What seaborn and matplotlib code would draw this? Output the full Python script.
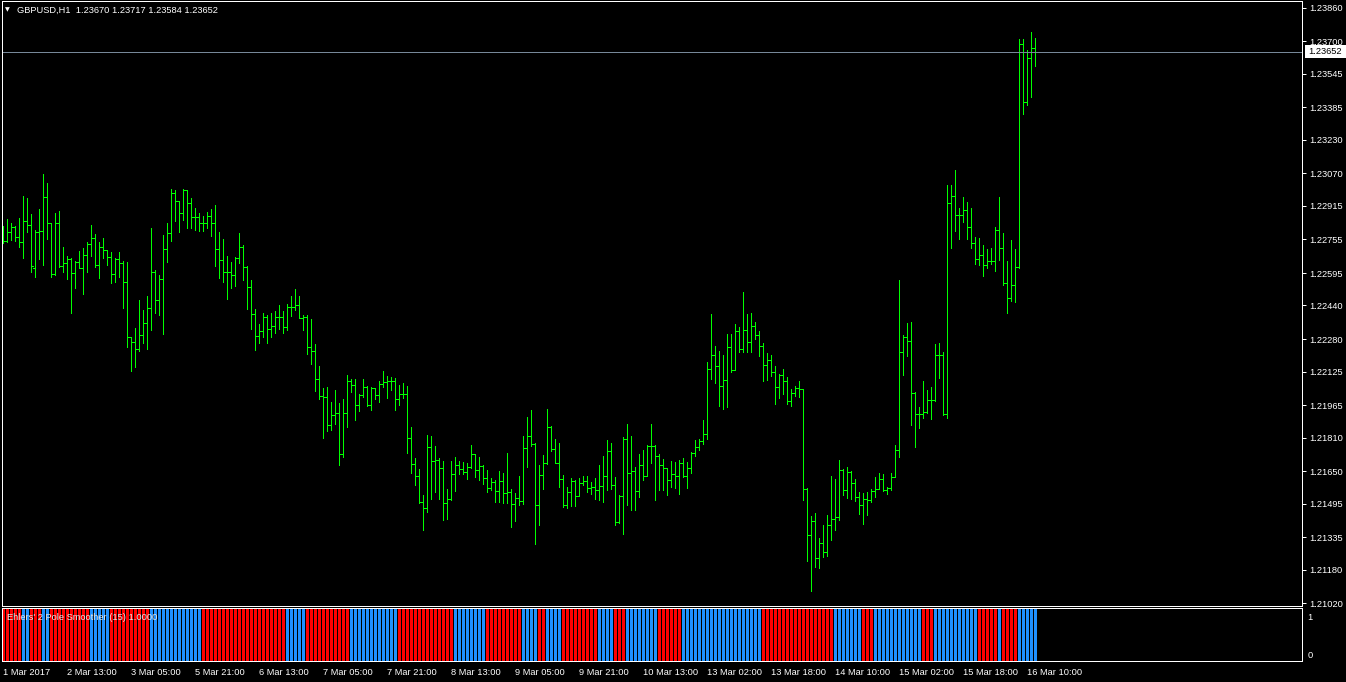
import matplotlib
matplotlib.use('Agg')
import matplotlib.pyplot as plt
import matplotlib.transforms as mtransforms
from matplotlib.patches import Rectangle
import numpy as np
import pandas as pd
import seaborn as sns

# GBPUSD H1 bars
symbol = 'GBPUSD,H1'

opens = [
    1.22755, 1.22749, 1.22790, 1.22813, 1.22765, 1.22743, 1.22841, 1.22822, 1.22620, 1.22790,
    1.22797, 1.22956, 1.22832, 1.22589, 1.22832, 1.22628, 1.22641, 1.22660, 1.22593, 1.22649,
    1.22620, 1.22679, 1.22732, 1.22760, 1.22633, 1.22717, 1.22704, 1.22671, 1.22589, 1.22660,
    1.22641, 1.22550, 1.22288, 1.22264, 1.22231, 1.22298, 1.22355, 1.22428, 1.22600, 1.22466,
    1.22565, 1.22708, 1.22787, 1.22978, 1.22937, 1.22880, 1.22991, 1.22927, 1.22860, 1.22860,
    1.22832, 1.22832, 1.22867, 1.22835, 1.22708, 1.22655, 1.22600, 1.22600, 1.22584, 1.22666,
    1.22717, 1.22622, 1.22527, 1.22398, 1.22294, 1.22317, 1.22383, 1.22326, 1.22342, 1.22383,
    1.22383, 1.22339, 1.22434, 1.22434, 1.22444, 1.22382, 1.22383, 1.22240, 1.22221, 1.22088,
    1.22008, 1.22005, 1.21868, 1.21916, 1.21926, 1.21731, 1.21926, 1.22078, 1.22059, 1.21964,
    1.22014, 1.22050, 1.21966, 1.22046, 1.22014, 1.22065, 1.22075, 1.22081, 1.22078, 1.21994,
    1.22018, 1.22018, 1.21806, 1.21684, 1.21625, 1.21502, 1.21474, 1.21763, 1.21698, 1.21701,
    1.21665, 1.21496, 1.21515, 1.21635, 1.21680, 1.21658, 1.21646, 1.21669, 1.21730, 1.21655,
    1.21674, 1.21618, 1.21568, 1.21599, 1.21554, 1.21601, 1.21547, 1.21550, 1.21493, 1.21521,
    1.21507, 1.21759, 1.21819, 1.21778, 1.21487, 1.21630, 1.21687, 1.21859, 1.21754, 1.21690,
    1.21611, 1.21487, 1.21550, 1.21601, 1.21533, 1.21594, 1.21601, 1.21571, 1.21575, 1.21560,
    1.21577, 1.21625, 1.21744, 1.21583, 1.21407, 1.21531, 1.21801, 1.21642, 1.21652, 1.21554,
    1.21678, 1.21626, 1.21770, 1.21770, 1.21722, 1.21680, 1.21663, 1.21607, 1.21636, 1.21628,
    1.21690, 1.21626, 1.21663, 1.21734, 1.21763, 1.21792, 1.21827, 1.22135, 1.22202, 1.22151,
    1.22056, 1.22084, 1.22240, 1.22132, 1.22317, 1.22231, 1.22323, 1.22264, 1.22342, 1.22300,
    1.22247, 1.22155, 1.22178, 1.22123, 1.22050, 1.22108, 1.22081, 1.21986, 1.22021, 1.22045,
    1.22040, 1.21563, 1.21344, 1.21410, 1.21234, 1.21308, 1.21266, 1.21391, 1.21420, 1.21432,
    1.21655, 1.21560, 1.21646, 1.21592, 1.21528, 1.21487, 1.21515, 1.21512, 1.21554, 1.21566,
    1.21611, 1.21560, 1.21568, 1.21623, 1.21750, 1.22218, 1.22288, 1.22270, 1.22021, 1.21921,
    1.21924, 1.21934, 1.21990, 1.21990, 1.22202, 1.22202, 1.21921, 1.22927, 1.22961, 1.22870,
    1.22870, 1.22894, 1.22814, 1.22736, 1.22660, 1.22681, 1.22633, 1.22652, 1.22652, 1.22801,
    1.22713, 1.22549, 1.22477, 1.22539, 1.22623, 1.23690, 1.23409, 1.23619, 1.23670,
]
highs = [
    1.22819, 1.22851, 1.22832, 1.22819, 1.22856, 1.22962, 1.22953, 1.22876, 1.22800, 1.22899,
    1.23067, 1.23024, 1.22835, 1.22882, 1.22891, 1.22717, 1.22676, 1.22665, 1.22652, 1.22700,
    1.22714, 1.22743, 1.22824, 1.22781, 1.22743, 1.22762, 1.22706, 1.22695, 1.22666, 1.22695,
    1.22652, 1.22647, 1.22292, 1.22332, 1.22466, 1.22418, 1.22485, 1.22809, 1.22609, 1.22584,
    1.22776, 1.22835, 1.22995, 1.22991, 1.22940, 1.22995, 1.22993, 1.22953, 1.22905, 1.22880,
    1.22868, 1.22886, 1.22900, 1.22919, 1.22790, 1.22756, 1.22676, 1.22649, 1.22670, 1.22787,
    1.22728, 1.22628, 1.22561, 1.22423, 1.22352, 1.22404, 1.22396, 1.22405, 1.22415, 1.22442,
    1.22415, 1.22447, 1.22485, 1.22518, 1.22485, 1.22393, 1.22396, 1.22374, 1.22256, 1.22151,
    1.22046, 1.22050, 1.21979, 1.22037, 1.21973, 1.21992, 1.22107, 1.22091, 1.22088, 1.22018,
    1.22091, 1.22056, 1.22050, 1.22048, 1.22078, 1.22127, 1.22103, 1.22097, 1.22094, 1.22061,
    1.22070, 1.22056, 1.21859, 1.21711, 1.21658, 1.21534, 1.21821, 1.21816, 1.21770, 1.21711,
    1.21699, 1.21564, 1.21698, 1.21717, 1.21699, 1.21693, 1.21687, 1.21774, 1.21731, 1.21719,
    1.21679, 1.21655, 1.21617, 1.21607, 1.21650, 1.21641, 1.21736, 1.21564, 1.21544, 1.21626,
    1.21817, 1.21908, 1.21941, 1.21782, 1.21679, 1.21727, 1.21946, 1.21865, 1.21801, 1.21785,
    1.21631, 1.21573, 1.21616, 1.21607, 1.21616, 1.21626, 1.21626, 1.21598, 1.21616, 1.21679,
    1.21722, 1.21798, 1.21784, 1.21620, 1.21535, 1.21814, 1.21875, 1.21817, 1.21669, 1.21731,
    1.21750, 1.21773, 1.21875, 1.21775, 1.21730, 1.21708, 1.21665, 1.21698, 1.21693, 1.21703,
    1.21712, 1.21693, 1.21741, 1.21798, 1.21803, 1.21894, 1.22170, 1.22399, 1.22247, 1.22223,
    1.22202, 1.22304, 1.22304, 1.22352, 1.22337, 1.22504, 1.22399, 1.22405, 1.22361, 1.22318,
    1.22261, 1.22213, 1.22205, 1.22151, 1.22113, 1.22135, 1.22097, 1.22040, 1.22056, 1.22078,
    1.22042, 1.21568, 1.21436, 1.21449, 1.21331, 1.21391, 1.21439, 1.21626, 1.21612, 1.21703,
    1.21661, 1.21671, 1.21650, 1.21612, 1.21550, 1.21547, 1.21550, 1.21563, 1.21620, 1.21641,
    1.21636, 1.21575, 1.21641, 1.21774, 1.22561, 1.22299, 1.22358, 1.22361, 1.22025, 1.21956,
    1.22080, 1.22037, 1.22051, 1.22256, 1.22261, 1.22218, 1.23015, 1.23015, 1.23086, 1.22905,
    1.22957, 1.22933, 1.22905, 1.22767, 1.22762, 1.22728, 1.22709, 1.22714, 1.22814, 1.22957,
    1.22786, 1.22652, 1.22752, 1.22709, 1.23711, 1.23711, 1.23659, 1.23744, 1.23717,
]
lows = [
    1.22736, 1.22744, 1.22752, 1.22749, 1.22720, 1.22668, 1.22792, 1.22601, 1.22577, 1.22663,
    1.22634, 1.22758, 1.22577, 1.22585, 1.22625, 1.22600, 1.22568, 1.22405, 1.22525, 1.22617,
    1.22496, 1.22601, 1.22676, 1.22625, 1.22572, 1.22665, 1.22634, 1.22549, 1.22553, 1.22577,
    1.22429, 1.22243, 1.22129, 1.22148, 1.22224, 1.22259, 1.22234, 1.22323, 1.22403, 1.22396,
    1.22305, 1.22649, 1.22749, 1.22844, 1.22792, 1.22848, 1.22811, 1.22811, 1.22800, 1.22795,
    1.22797, 1.22811, 1.22773, 1.22628, 1.22572, 1.22553, 1.22472, 1.22525, 1.22533, 1.22644,
    1.22561, 1.22425, 1.22329, 1.22229, 1.22262, 1.22291, 1.22262, 1.22291, 1.22310, 1.22329,
    1.22310, 1.22323, 1.22390, 1.22418, 1.22379, 1.22323, 1.22210, 1.22161, 1.22033, 1.21995,
    1.21809, 1.21843, 1.21846, 1.21875, 1.21680, 1.21719, 1.21862, 1.22027, 1.21894, 1.21935,
    1.22002, 1.21962, 1.21939, 1.21992, 1.21979, 1.22052, 1.22000, 1.22037, 1.21939, 1.21966,
    1.21997, 1.21735, 1.21642, 1.21585, 1.21499, 1.21369, 1.21456, 1.21515, 1.21550, 1.21518,
    1.21418, 1.21423, 1.21512, 1.21555, 1.21636, 1.21636, 1.21611, 1.21665, 1.21620, 1.21607,
    1.21588, 1.21550, 1.21560, 1.21504, 1.21502, 1.21499, 1.21496, 1.21385, 1.21413, 1.21490,
    1.21493, 1.21671, 1.21770, 1.21302, 1.21394, 1.21566, 1.21685, 1.21747, 1.21687, 1.21575,
    1.21480, 1.21475, 1.21483, 1.21483, 1.21530, 1.21584, 1.21552, 1.21541, 1.21518, 1.21512,
    1.21502, 1.21560, 1.21566, 1.21391, 1.21400, 1.21350, 1.21488, 1.21464, 1.21464, 1.21528,
    1.21607, 1.21625, 1.21690, 1.21512, 1.21560, 1.21560, 1.21536, 1.21574, 1.21569, 1.21541,
    1.21623, 1.21569, 1.21642, 1.21723, 1.21750, 1.21779, 1.21804, 1.22091, 1.22071, 1.21960,
    1.21947, 1.21957, 1.22124, 1.22130, 1.22219, 1.22219, 1.22219, 1.22219, 1.22280, 1.22199,
    1.22081, 1.22084, 1.22105, 1.21971, 1.21999, 1.22018, 1.21970, 1.21960, 1.22008, 1.22005,
    1.21512, 1.21221, 1.21079, 1.21194, 1.21189, 1.21242, 1.21246, 1.21321, 1.21369, 1.21417,
    1.21536, 1.21520, 1.21515, 1.21506, 1.21447, 1.21399, 1.21442, 1.21501, 1.21528, 1.21563,
    1.21556, 1.21542, 1.21560, 1.21620, 1.21716, 1.22108, 1.22199, 1.21868, 1.21765, 1.21855,
    1.21902, 1.21926, 1.21897, 1.21986, 1.22095, 1.21917, 1.21902, 1.22713, 1.22797, 1.22758,
    1.22839, 1.22758, 1.22715, 1.22639, 1.22634, 1.22582, 1.22620, 1.22639, 1.22606, 1.22658,
    1.22539, 1.22405, 1.22463, 1.22458, 1.22620, 1.23353, 1.23396, 1.23436, 1.23584,
]
closes = [
    1.22749, 1.22790, 1.22813, 1.22765, 1.22743, 1.22841, 1.22825, 1.22627, 1.22790, 1.22797,
    1.22956, 1.22832, 1.22589, 1.22832, 1.22628, 1.22641, 1.22660, 1.22593, 1.22649, 1.22620,
    1.22679, 1.22732, 1.22760, 1.22633, 1.22717, 1.22704, 1.22671, 1.22589, 1.22660, 1.22641,
    1.22550, 1.22288, 1.22264, 1.22231, 1.22298, 1.22355, 1.22428, 1.22600, 1.22466, 1.22565,
    1.22708, 1.22787, 1.22978, 1.22937, 1.22880, 1.22991, 1.22927, 1.22860, 1.22860, 1.22832,
    1.22832, 1.22867, 1.22835, 1.22708, 1.22655, 1.22600, 1.22600, 1.22584, 1.22666, 1.22717,
    1.22622, 1.22527, 1.22398, 1.22294, 1.22317, 1.22383, 1.22326, 1.22342, 1.22383, 1.22383,
    1.22339, 1.22434, 1.22434, 1.22444, 1.22382, 1.22383, 1.22240, 1.22221, 1.22088, 1.22008,
    1.22005, 1.21868, 1.21916, 1.21926, 1.21731, 1.21926, 1.22078, 1.22059, 1.21964, 1.22014,
    1.22050, 1.21966, 1.22046, 1.22014, 1.22065, 1.22075, 1.22081, 1.22078, 1.21994, 1.22018,
    1.22018, 1.21806, 1.21684, 1.21625, 1.21502, 1.21474, 1.21763, 1.21698, 1.21701, 1.21665,
    1.21496, 1.21515, 1.21635, 1.21680, 1.21658, 1.21646, 1.21669, 1.21730, 1.21655, 1.21674,
    1.21618, 1.21568, 1.21599, 1.21554, 1.21601, 1.21547, 1.21550, 1.21493, 1.21521, 1.21507,
    1.21759, 1.21819, 1.21778, 1.21487, 1.21630, 1.21687, 1.21859, 1.21754, 1.21690, 1.21611,
    1.21487, 1.21550, 1.21601, 1.21533, 1.21594, 1.21601, 1.21571, 1.21575, 1.21560, 1.21577,
    1.21625, 1.21744, 1.21583, 1.21407, 1.21531, 1.21801, 1.21642, 1.21652, 1.21554, 1.21678,
    1.21626, 1.21770, 1.21770, 1.21722, 1.21680, 1.21663, 1.21607, 1.21636, 1.21628, 1.21690,
    1.21626, 1.21663, 1.21734, 1.21763, 1.21792, 1.21827, 1.22135, 1.22202, 1.22151, 1.22056,
    1.22084, 1.22240, 1.22132, 1.22317, 1.22231, 1.22323, 1.22264, 1.22342, 1.22300, 1.22247,
    1.22155, 1.22178, 1.22123, 1.22050, 1.22108, 1.22081, 1.21986, 1.22021, 1.22045, 1.22040,
    1.21563, 1.21344, 1.21410, 1.21234, 1.21308, 1.21266, 1.21391, 1.21420, 1.21432, 1.21655,
    1.21560, 1.21646, 1.21592, 1.21528, 1.21487, 1.21515, 1.21512, 1.21554, 1.21566, 1.21611,
    1.21560, 1.21568, 1.21623, 1.21750, 1.22218, 1.22288, 1.22270, 1.22021, 1.21921, 1.21924,
    1.21934, 1.21990, 1.21990, 1.22202, 1.22202, 1.21921, 1.22927, 1.22961, 1.22870, 1.22870,
    1.22894, 1.22814, 1.22736, 1.22660, 1.22681, 1.22633, 1.22652, 1.22652, 1.22801, 1.22713,
    1.22549, 1.22477, 1.22539, 1.22623, 1.23690, 1.23409, 1.23619, 1.23671, 1.23652,
]

time_labels = ['1 Mar 2017', '2 Mar 13:00', '3 Mar 05:00', '5 Mar 21:00', '6 Mar 13:00',
               '7 Mar 05:00', '7 Mar 21:00', '8 Mar 13:00', '9 Mar 05:00', '9 Mar 21:00',
               '10 Mar 13:00', '13 Mar 02:00', '13 Mar 18:00', '14 Mar 10:00', '15 Mar 02:00',
               '15 Mar 18:00', '16 Mar 10:00']

price_ticks = [1.23860, 1.23700, 1.23545, 1.23385, 1.23230, 1.23070, 1.22915, 1.22755,
               1.22595, 1.22440, 1.22280, 1.22125, 1.21965, 1.21810, 1.21650, 1.21495,
               1.21335, 1.21180, 1.21020]

# Ehlers' 2 Pole Smoother colour runs (bars per run)
indicator_name = "Ehlers' 2 Pole Smoother (15)"
signal_value = 1.0
trend_runs = [('down', 5), ('up', 2), ('down', 3), ('up', 2), ('down', 10), ('up', 5),
              ('down', 10), ('up', 13), ('down', 21), ('up', 5), ('down', 11), ('up', 12),
              ('down', 14), ('up', 8), ('down', 9), ('up', 4), ('down', 2), ('up', 4),
              ('down', 9), ('up', 4), ('down', 3), ('up', 8), ('down', 6), ('up', 20),
              ('down', 18), ('up', 7), ('down', 3), ('up', 12), ('down', 3), ('up', 11),
              ('down', 5), ('up', 1), ('down', 4), ('up', 5)]

sns.set_theme(style='dark', rc={'axes.facecolor': 'black', 'figure.facecolor': 'black'})
plt.rcParams['font.family'] = ['Liberation Sans', 'DejaVu Sans']

W, H = 1346, 682
bar_color = '#00FF00'
fs = 6.7


def px_box(x0, y0, x1, y1):
    return [x0 / W, 1 - y1 / H, (x1 - x0) / W, (y1 - y0) / H]


n = len(closes)
x = np.arange(n)

fig = plt.figure(figsize=(W / 100, H / 100), dpi=100)
ax = fig.add_axes(px_box(2, 1, 1302, 606))
ax2 = fig.add_axes(px_box(2, 608, 1302, 661))

# price bars
ax.vlines(x, lows, highs, colors=bar_color, linewidth=0.72, antialiased=False)
ax.hlines(opens, x - 0.4, x, colors=bar_color, linewidth=0.72, antialiased=False)
ax.hlines(closes, x, x + 0.4, colors=bar_color, linewidth=0.72, antialiased=False)
ax.axhline(closes[-1], color='#778899', linewidth=0.72, antialiased=False)

ax.set_xlim(-0.25, 324.75)
ax.set_ylim(1.21006, 1.23893)
ax.set_facecolor('black')
ax.grid(False)
ax.set_xticks([])
ax.yaxis.tick_right()
ax.set_yticks(price_ticks, labels=[f'{v:.5f}' for v in price_ticks])
ax.tick_params(axis='y', colors='white', labelcolor='white', length=3, width=0.72,
               labelsize=fs, pad=2, direction='out')
for s in ax.spines.values():
    s.set_color('white')
    s.set_linewidth(0.72)

# current price marker on the price scale
trans = mtransforms.blended_transform_factory(ax.transAxes, ax.transData)
ax.add_patch(Rectangle((1.0023, closes[-1] - 0.00029), 0.0316, 0.00058, transform=trans,
                       facecolor='white', edgecolor='none', clip_on=False, zorder=5))
ax.text(1.0048, closes[-1], f'{closes[-1]:.5f}', transform=trans, ha='left', va='center',
        color='black', fontsize=fs, clip_on=False, zorder=6)

fig.text(5 / W, 1 - 10 / H, '\u25bc', color='white', fontsize=4.5, ha='left', va='center',
         family=['DejaVu Sans'])
fig.text(17 / W, 1 - 10 / H,
         f'{symbol}  {opens[-1]:.5f} {highs[-1]:.5f} {lows[-1]:.5f} {closes[-1]:.5f}',
         color='white', fontsize=fs, ha='left', va='center')

# indicator pane
trend = [t for t, k in trend_runs for _ in range(k)]
ind = pd.DataFrame({'bar': x, 'value': signal_value, 'trend': trend})
sns.barplot(data=ind, x='bar', y='value', hue='trend', native_scale=True, width=0.75,
            palette={'up': '#1E90FF', 'down': '#FF0000'}, saturation=1, errorbar=None,
            legend=False, dodge=False, linewidth=0, ax=ax2)
for p in ax2.patches:
    p.set_antialiased(False)

ax2.set_xlim(-0.25, 324.75)
ax2.set_ylim(0, 1)
ax2.set_facecolor('black')
ax2.grid(False)
ax2.set_xlabel('')
ax2.set_ylabel('')
ax2.set_yticks([])
ax2.set_xticks(list(range(0, n, 16)), labels=time_labels)
ax2.tick_params(axis='x', colors='white', labelcolor='white', length=3, width=0.72,
                labelsize=fs, pad=2, direction='out')
for lbl in ax2.get_xticklabels():
    lbl.set_horizontalalignment('left')
for s in ax2.spines.values():
    s.set_color('white')
    s.set_linewidth(0.72)

ax2.text(5 / 1300, 0.82, f'{indicator_name} {signal_value:.4f}', transform=ax2.transAxes,
         color='#E8E8E8', fontsize=fs, ha='left', va='center')
ax2.text(1.004, 0.83, '1', transform=ax2.transAxes, color='white', fontsize=fs,
         ha='left', va='center')
ax2.text(1.004, 0.11, '0', transform=ax2.transAxes, color='white', fontsize=fs,
         ha='left', va='center')

fig.savefig('out.png', dpi=100, facecolor='black')
